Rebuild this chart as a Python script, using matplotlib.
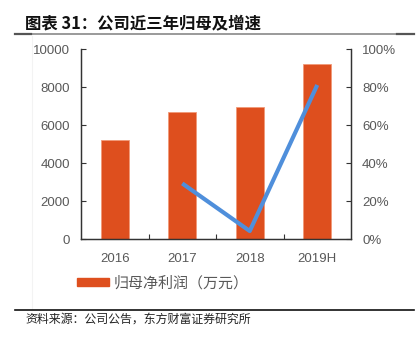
import matplotlib
matplotlib.use("Agg")
import matplotlib.pyplot as plt
from matplotlib.lines import Line2D
from matplotlib.patches import Patch

plt.rcParams['font.family'] = ['Liberation Sans', 'Noto Sans CJK SC', 'DejaVu Sans']

years = ["2016", "2017", "2018", "2019H"]
profit = [5220, 6700, 6940, 9230]          # 归母净利润（万元）
growth = [None, 29.3, 4.2, 81.2]           # 同比增速（%）
left_ticks = [0, 2000, 4000, 6000, 8000, 10000]
right_ticks = [0, 20, 40, 60, 80, 100]

bar_color = "#DE4F1E"
line_color = "#4F8FDB"
text_gray = "#595959"
cjk = ['Noto Sans CJK SC', 'DejaVu Sans']

fig = plt.figure(figsize=(4.17, 3.41), dpi=100)
ax = fig.add_axes([81 / 417, 1 - 239 / 341, 270 / 417, (239 - 49.3) / 341])

x = list(range(len(years)))
ax.bar(x, profit, width=0.41, color=bar_color, edgecolor="#F19A78", linewidth=0.6, zorder=2)
ax.set_xlim(-0.5, len(years) - 0.5)
ax.set_ylim(0, 10000)
ax.set_yticks(left_ticks)
ax.set_yticklabels([str(v) for v in left_ticks])
ax.set_xticks(x)
ax.set_xticklabels(years)
ax.set_xticks([i + 0.5 for i in x[:-1]], minor=True)
ax.tick_params(axis='x', which='major', length=0, pad=10, labelsize=9.5, labelcolor=text_gray)
ax.tick_params(axis='x', which='minor', direction='in', length=3.5, width=0.8, color='#333333')
ax.tick_params(axis='y', direction='in', length=3.5, width=0.8, pad=8, labelsize=9.5,
               labelcolor=text_gray, color='#333333')

ax2 = ax.twinx()
gx = [i for i, g in zip(x, growth) if g is not None]
gy = [g for g in growth if g is not None]
ax2.plot(gx, gy, color=line_color, linewidth=3.0, solid_capstyle='butt', zorder=3)
ax2.set_ylim(0, 100)
ax2.set_yticks(right_ticks)
ax2.set_yticklabels([f"{v}%" for v in right_ticks])
ax2.tick_params(axis='y', direction='in', length=3.5, width=0.8, pad=8, labelsize=9.5,
                labelcolor=text_gray, color='#333333')

for a in (ax, ax2):
    a.spines['top'].set_visible(False)
    for s in ('left', 'right', 'bottom'):
        a.spines[s].set_color('#333333')
        a.spines[s].set_linewidth(0.9)

# legend
leg_handles = [Patch(facecolor=bar_color, edgecolor=bar_color)]
fig.legend(leg_handles, ["归母净利润（万元）"], loc='center left',
           bbox_to_anchor=(77 / 417, 1 - 283 / 341), frameon=False,
           borderpad=0, borderaxespad=0,
           handlelength=2.1, handleheight=0.4, handletextpad=0.35,
           prop={'family': cjk, 'size': 10.8}, labelcolor=text_gray)

# title and frame lines
fig.text(25 / 417, 1 - 23.5 / 341, "图表 31：公司近三年归母及增速", ha='left', va='center',
         fontsize=11.8, fontweight='bold', family=cjk, color='#111111')
fig.add_artist(Line2D([15 / 417, 397 / 417], [1 - 34 / 341] * 2, color='#9a9a9a', lw=1.4))
fig.add_artist(Line2D([15 / 417, 31 / 417], [1 - 34 / 341] * 2, color='#555555', lw=1.6))
fig.add_artist(Line2D([397 / 417, 414 / 417], [1 - 34 / 341] * 2, color='#555555', lw=1.6))
fig.add_artist(Line2D([31.5 / 417] * 2, [1 - 36 / 341, 1 - 309 / 341], color='#f3f3f3', lw=0.8))
fig.add_artist(Line2D([15 / 417, 414 / 417], [1 - 310 / 341] * 2, color='#111111', lw=1.2))

fig.text(25 / 417, 1 - 319 / 341, "资料来源：公司公告，东方财富证券研究所", ha='left', va='center',
         fontsize=8.6, family=cjk, color='#222222')

fig.savefig("out.png", dpi=100)
